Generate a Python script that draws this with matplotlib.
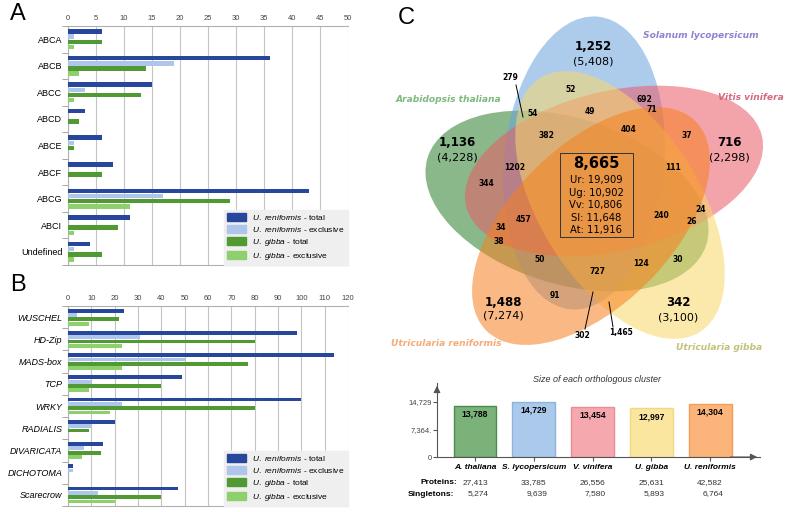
import numpy as np
import matplotlib
matplotlib.use("Agg")
import matplotlib.pyplot as plt
from matplotlib.patches import Ellipse, Patch, Rectangle
from matplotlib.transforms import blended_transform_factory

plt.rcParams['font.family'] = ['Liberation Sans', 'DejaVu Sans']
plt.rcParams['mathtext.fontset'] = 'custom'
plt.rcParams['mathtext.it'] = 'Liberation Sans:italic'
plt.rcParams['mathtext.rm'] = 'Liberation Sans'

# ---------------- datos panel A (ABC transporters) ----------------
abc_names = ['ABCA', 'ABCB', 'ABCC', 'ABCD', 'ABCE', 'ABCF', 'ABCG', 'ABCI', 'Undefined']
abc_ur_total = [6, 36, 15, 3, 6, 8, 43, 11, 4]
abc_ur_excl = [1, 19, 3, 0, 1, 0, 17, 0, 1]
abc_ug_total = [6, 14, 13, 2, 1, 6, 29, 9, 6]
abc_ug_excl = [1, 2, 1, 0, 0, 0, 11, 1, 1]

# ---------------- datos panel B (factores de transcripcion) ----------------
tf_names = ['WUSCHEL', 'HD-Zip', 'MADS-box', 'TCP', 'WRKY', 'RADIALIS',
            'DIVARICATA', 'DICHOTOMA', 'Scarecrow']
tf_ur_total = [24, 98, 114, 49, 100, 20, 15, 2, 47]
tf_ur_excl = [4, 31, 50, 10, 23, 10, 7, 2, 13]
tf_ug_total = [22, 80, 77, 40, 80, 9, 14, 0, 40]
tf_ug_excl = [9, 23, 23, 9, 18, 0, 6, 0, 20]

series_labels = [r'$\mathit{U.\ reniformis}$ - total',
                 r'$\mathit{U.\ reniformis}$ - exclusive',
                 r'$\mathit{U.\ gibba}$ - total',
                 r'$\mathit{U.\ gibba}$ - exclusive']
series_colors = ['#26479c', '#aec6ec', '#519a33', '#8fd06e']

# ---------------- datos panel C (Venn) ----------------
species = ['Arabidopsis thaliana', 'Solanum lycopersicum', 'Vitis vinifera',
           'Utricularia gibba', 'Utricularia reniformis']
unique_counts = ['1,136', '1,252', '716', '342', '1,488']
total_counts = ['(4,228)', '(5,408)', '(2,298)', '(3,100)', '(7,274)']
core_count = '8,665'
core_lines = ['Ur: 19,909', 'Ug: 10,902', 'Vv: 10,806', 'Sl: 11,648', 'At: 11,916']
region_counts = ['279', '52', '692', '71', '54', '49', '382', '404', '37', '1202',
                 '111', '344', '457', '34', '38', '50', '727', '124', '30', '91',
                 '240', '24', '26', '302', '1,465']

# barras del cluster
short_names = ['A. thaliana', 'S. lycopersicum', 'V. vinifera', 'U. gibba', 'U. reniformis']
cluster_size = [13788, 14729, 13454, 12997, 14304]
proteins = ['27,413', '33,785', '26,556', '25,631', '42,582']
singletons = ['5,274', '9,639', '7,580', '5,893', '6,764']

# ---------------- layout (pixeles de la figura) ----------------
W, H = 792, 512
fig = plt.figure(figsize=(W / 100, H / 100), dpi=100)


def px_axes(x0, y0, x1, y1):
    return fig.add_axes([x0 / W, 1 - y1 / H, (x1 - x0) / W, (y1 - y0) / H])


def hbars(ax, names, vals_list, xmax, step):
    y = np.arange(len(names))
    for j, vals in enumerate(vals_list):
        ax.barh(y + (j - 1.5) * 0.195, vals, height=0.17, color=series_colors[j],
                edgecolor='none', zorder=3)
    ax.set_ylim(len(names) - 0.5, -0.5)
    ax.set_xlim(0, xmax)
    ax.set_yticks(y)
    ax.set_yticks(np.arange(len(names) + 1) - 0.5, minor=True)
    ax.tick_params(axis='y', which='major', length=0, pad=4)
    ax.tick_params(axis='y', which='minor', length=4, color='#999999')
    ax.xaxis.tick_top()
    ax.set_xticks(np.arange(0, xmax + 1, step))
    ax.tick_params(axis='x', length=0, labelsize=5.5, labelcolor='#444444', pad=3)
    ax.grid(axis='x', color='#c4c4c4', lw=0.8, zorder=0)
    ax.spines['right'].set_visible(False)
    for s in ['left', 'top', 'bottom']:
        ax.spines[s].set_color('#b0b0b0')
    handles = [Patch(color=c) for c in series_colors]
    leg = ax.legend(handles, series_labels, loc='lower right', fontsize=6,
                    borderaxespad=0, fancybox=False, framealpha=1,
                    facecolor='#efefef', edgecolor='#efefef',
                    handlelength=2.2, handleheight=1.1, labelspacing=0.35)
    leg.set_zorder(5)


# ---- A ----
axA = px_axes(68, 26, 348, 265)
hbars(axA, abc_names, [abc_ur_total, abc_ur_excl, abc_ug_total, abc_ug_excl], 50, 5)
axA.set_yticklabels(abc_names, fontsize=6.5)
fig.text(10 / W, 1 - 14 / H, 'A', fontsize=17, va='center')

# ---- B ----
axB = px_axes(68, 306, 348, 506)
hbars(axB, tf_names, [tf_ur_total, tf_ur_excl, tf_ug_total, tf_ug_excl], 120, 10)
axB.set_yticklabels(tf_names, fontsize=6.5, style='italic')
fig.text(10 / W, 1 - 285 / H, 'B', fontsize=17, va='center')

# ---- C: Venn ----
axV = px_axes(380, 0, 792, 512)
axV.set_xlim(380, 792)
axV.set_ylim(512, 0)
axV.axis('off')
fig.text(398 / W, 1 - 18 / H, 'C', fontsize=17, va='center')

# elipses: centro (px), semiejes, angulo hacia el lobulo exterior
ellipses = [((567, 201), 146, 83, 162.7),   # A. thaliana
            ((584, 163), 147, 80, 84.7),    # S. lycopersicum
            ((614, 171), 152, 80, 13.3),    # V. vinifera
            ((620, 205), 150, 80, -57.8),   # U. gibba
            ((591, 226), 148, 80, -135.0)]  # U. reniformis
venn_colors = ['#2a7f2a', '#6aa3db', '#ea5a66', '#f8d868', '#f7801f']
for (c, ea, eb, phi), col in zip(ellipses, venn_colors):
    axV.add_patch(Ellipse(c, 2 * ea, 2 * eb, angle=-phi,
                          facecolor=col, edgecolor='none', alpha=0.55))

VF = 'DejaVu Sans'
name_pos = [(448, 100), (701, 36), (751, 98), (719, 347), (446, 343)]
name_colors = ['#7dba7d', '#8c84cf', '#d46a7f', '#c3c27a', '#f6ab78']
for s, (x, y), c in zip(species, name_pos, name_colors):
    axV.text(x, y, s, family=VF, style='italic', weight='bold', fontsize=6.6,
             color=c, ha='center', va='center')

uniq_pos = [(457, 143), (593, 47), (729, 143), (678, 303), (503, 302)]
for u, tc, (x, y) in zip(unique_counts, total_counts, uniq_pos):
    axV.text(x, y, u, family=VF, weight='bold', fontsize=8.5, ha='center', va='center')
    axV.text(x, y + 14, tc, family=VF, fontsize=8, ha='center', va='center')

region_pos = [(510, 77), (571, 89), (644, 99), (652, 110), (533, 114), (590, 112),
              (546, 136), (629, 130), (687, 136), (515, 167), (673, 167), (486, 184),
              (524, 219), (501, 228), (499, 242), (540, 259), (597, 271), (641, 263),
              (678, 259), (555, 295), (661, 215), (701, 209), (692, 222), (582, 336),
              (621, 333)]
for r, (x, y) in zip(region_counts, region_pos):
    axV.text(x, y, r, family=VF, weight='bold', fontsize=5.5, ha='center', va='center')

leaders = [((516, 85), (523, 117)), ((585, 329), (593, 292)), ((613, 327), (609, 302))]
for (x0, y0), (x1, y1) in leaders:
    axV.plot([x0, x1], [y0, y1], color='black', lw=0.7)

axV.add_patch(Rectangle((560, 153), 73, 84, facecolor='none', edgecolor='#333333', lw=0.7))
axV.text(596, 164, core_count, family=VF, weight='bold', fontsize=10.5, ha='center', va='center')
for i, line in enumerate(core_lines):
    axV.text(596, 180 + i * 12.5, line, family=VF, fontsize=7.2, ha='center', va='center')

# ---- C: barras del cluster ----
axC = px_axes(437, 383, 760, 457)
xpos = np.arange(len(short_names))
bar_colors = ['#7ab27a', '#abc9ea', '#f5a8ae', '#fbe6a0', '#fbb47a']
bar_edges = ['#4c8c4c', '#8db3e0', '#ee8a93', '#f3d883', '#f59c55']
top = cluster_size[1] * 74 / 55
axC.bar(xpos, cluster_size, width=0.73, color=bar_colors, edgecolor=bar_edges, lw=1)
axC.set_xlim(-0.647, 4.85)
axC.set_ylim(0, top)
for x, v in zip(xpos, cluster_size):
    axC.text(x, v - 2200, f'{v:,}', ha='center', va='center', fontsize=6.2, weight='bold')
for s in ['top', 'right']:
    axC.spines[s].set_visible(False)
for s in ['left', 'bottom']:
    axC.spines[s].set_color('#555555')
axC.annotate('', xy=(1.0, 0), xytext=(0.9, 0), xycoords='axes fraction',
             arrowprops=dict(arrowstyle='-|>', color='#555555', lw=0.8))
axC.annotate('', xy=(0, 1.0), xytext=(0, 0.85), xycoords='axes fraction',
             arrowprops=dict(arrowstyle='-|>', color='#555555', lw=0.8))
axC.set_yticks([0, cluster_size[1] / 2, cluster_size[1]])
axC.set_yticklabels(['0', '7,364.', '14,729'])
axC.tick_params(axis='y', labelsize=5.5, labelcolor='#444444', length=3, color='#555555', pad=1)
axC.set_xticks(xpos)
axC.set_xticklabels(short_names, fontsize=6, weight='bold', style='italic')
axC.tick_params(axis='x', length=3, color='#555555', pad=2)
fig.text(597 / W, 1 - 380 / H, 'Size of each orthologous cluster', fontsize=6.5,
         style='italic', color='#333333', ha='center', va='center')
tr = blended_transform_factory(axC.transData, axC.transAxes)
axC.text(-0.3, -0.35, 'Proteins:', transform=tr, fontsize=6, weight='bold', ha='right', va='center')
axC.text(-0.35, -0.5, 'Singletons:', transform=tr, fontsize=6, weight='bold', ha='right', va='center')
for x, p, s in zip(xpos, proteins, singletons):
    axC.text(x, -0.35, p, transform=tr, fontsize=6, color='#333333', ha='center', va='center')
    axC.text(x + 0.05, -0.5, s, transform=tr, fontsize=6, color='#333333', ha='center', va='center')

fig.savefig('out.png', dpi=100)
